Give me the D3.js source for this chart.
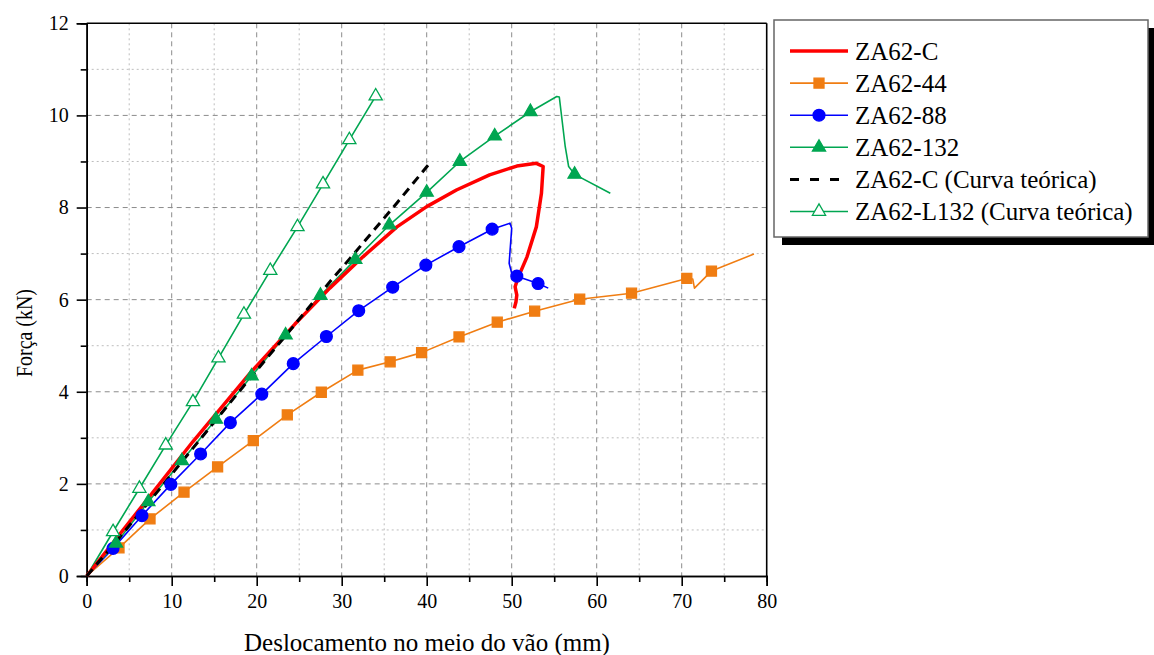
<!DOCTYPE html>
<html><head><meta charset="utf-8">
<script src="https://cdn.jsdelivr.net/npm/d3@7"></script>
<style>body{margin:0;background:#fff}svg{display:block}text{font-family:"Liberation Serif","Times New Roman",serif;fill:#000}</style>
</head><body><svg id="c" width="1154" height="655"></svg>
<script>
// ---- data ----
const xTicks = [0,10,20,30,40,50,60,70,80];
const yTicks = [0,2,4,6,8,10,12];
const seriesNames = ["ZA62-C","ZA62-44","ZA62-88","ZA62-132","ZA62-C (Curva teórica)","ZA62-L132 (Curva teórica)"];

const za62C = [[0,0],[6.3,1.47],[12.5,2.92],[19.2,4.4],[24.5,5.47],[28.6,6.25],[32.5,6.93],[36.5,7.58],[40,8.02],[43.5,8.38],[47.4,8.71],[50.6,8.9],[52.9,8.96],[53.7,8.89],[53.5,8.31],[52.9,7.58],[51.8,6.93],[50.8,6.5],[50.4,6.28],[50.6,6.1],[50.5,5.95],[50.3,5.81]];
const za62_44 = [[0,0],[3.8,0.61],[7.45,1.24],[11.45,1.82],[15.4,2.37],[19.6,2.94],[23.6,3.5],[27.6,3.99],[31.9,4.47],[35.7,4.65],[39.4,4.85],[43.8,5.19],[48.3,5.51],[52.7,5.75],[58.0,6.01],[64.1,6.14],[70.6,6.46],[71.3,6.45],[71.5,6.25],[73.5,6.62],[78.5,6.99]];
const za62_44_marks = [1,2,3,4,5,6,7,8,9,10,11,12,13,14,15,16,19];
const za62_88 = [[0,0],[3.1,0.6],[6.5,1.31],[9.9,1.99],[13.4,2.65],[16.9,3.33],[20.6,3.95],[24.3,4.61],[28.2,5.2],[32.0,5.76],[36.0,6.27],[39.9,6.75],[43.8,7.15],[47.7,7.53],[49.8,7.66],[50.0,7.55],[49.7,6.79],[50.0,6.57],[50.6,6.51],[53.1,6.35],[54.3,6.25]];
const za62_88_marks = [1,2,3,4,5,6,7,8,9,10,11,12,13,18,19];
const za62_132 = [[0,0],[3.45,0.71],[7.25,1.61],[11.2,2.5],[15.2,3.4],[19.4,4.34],[23.4,5.23],[27.5,6.09],[31.6,6.87],[35.6,7.62],[40.0,8.33],[43.9,9.0],[48.0,9.55],[52.2,10.08],[55.3,10.41],[55.6,10.4],[56.3,9.32],[56.7,8.89],[57.4,8.72],[61.6,8.31]];
const za62_132_marks = [1,2,3,4,5,6,7,8,9,10,11,12,13,18];
const za62C_teo = [[0,0],[3.7,0.8],[8.5,1.87],[18.4,4.11],[24,5.35],[28.8,6.43],[31,6.9],[36.5,8.1],[40.3,8.95]];
const za62L132_teo = [[0,0],[3.1,0.96],[6.2,1.9],[9.3,2.84],[12.5,3.78],[15.5,4.73],[18.5,5.68],[21.6,6.63],[24.8,7.58],[27.8,8.51],[30.9,9.47],[34.0,10.42]];
const za62L132_marks = [1,2,3,4,5,6,7,8,9,10,11];

// ---- layout ----
const svg = d3.select("#c");
const L=86.7, R=766.7, T=23.3, B=576;
const x = d3.scaleLinear().domain([0,80]).range([L,R]);
const y = d3.scaleLinear().domain([0,12]).range([B,T]);

const RED="#ff0000", ORANGE="#f07d12", BLUE="#0000ff", GREEN="#00a651";

// grid
const g = svg.append("g");
d3.range(5,80,10).forEach(v=>g.append("line").attr("x1",x(v)).attr("x2",x(v)).attr("y1",T).attr("y2",B).attr("stroke","#bdbdbd").attr("stroke-width",1).attr("stroke-dasharray","2,3"));
d3.range(1,12,2).forEach(v=>g.append("line").attr("y1",y(v)).attr("y2",y(v)).attr("x1",L).attr("x2",R).attr("stroke","#bdbdbd").attr("stroke-width",1).attr("stroke-dasharray","2,3"));
xTicks.slice(1,-1).forEach(v=>g.append("line").attr("x1",x(v)).attr("x2",x(v)).attr("y1",T).attr("y2",B).attr("stroke","#8c8c8c").attr("stroke-width",1).attr("stroke-dasharray","5,4"));
yTicks.slice(1,-1).forEach(v=>g.append("line").attr("y1",y(v)).attr("y2",y(v)).attr("x1",L).attr("x2",R).attr("stroke","#8c8c8c").attr("stroke-width",1).attr("stroke-dasharray","5,4"));

// axes
const xAxis = d3.axisBottom(x).tickValues(xTicks).tickSize(10).tickPadding(8).tickFormat(d3.format("d"));
const xMinor = d3.axisBottom(x).tickValues(d3.range(5,80,10)).tickSize(6).tickFormat("");
const yAxis = d3.axisLeft(y).tickValues(yTicks).tickSize(10).tickPadding(8).tickFormat(d3.format("d"));
const yMinor = d3.axisLeft(y).tickValues(d3.range(1,12,2)).tickSize(6).tickFormat("");
function styleAx(sel){sel.select(".domain").attr("stroke","#000").attr("stroke-width",1.6);sel.selectAll(".tick line").attr("stroke","#000").attr("stroke-width",1.6);sel.selectAll("text").attr("font-size",20).attr("font-family","Liberation Serif");}
svg.append("g").attr("transform",`translate(0,${B})`).call(xAxis).call(styleAx);
svg.append("g").attr("transform",`translate(0,${B})`).call(xMinor).call(styleAx);
svg.append("g").attr("transform",`translate(${L},0)`).call(yAxis).call(styleAx);
svg.append("g").attr("transform",`translate(${L},0)`).call(yMinor).call(styleAx);
svg.append("line").attr("x1",L).attr("x2",R).attr("y1",T).attr("y2",T).attr("stroke","#000").attr("stroke-width",1.6);
svg.append("line").attr("x1",R).attr("x2",R).attr("y1",T).attr("y2",B).attr("stroke","#000").attr("stroke-width",1.6);

// titles
svg.append("text").attr("x",427).attr("y",651).attr("text-anchor","middle").attr("font-size",25).text("Deslocamento no meio do vão (mm)");
svg.append("text").attr("transform","translate(32,333) rotate(-90)").attr("text-anchor","middle").attr("font-size",24).attr("textLength",88).attr("lengthAdjust","spacingAndGlyphs").text("Força (kN)");

// lines
const line = d3.line().x(d=>x(d[0])).y(d=>y(d[1]));
const plot = svg.append("g");
function drawLine(data,color,w,dash){plot.append("path").datum(data).attr("d",line).attr("fill","none").attr("stroke",color).attr("stroke-width",w).attr("stroke-linejoin","round").attr("stroke-dasharray",dash||null);}
drawLine(za62_44,ORANGE,1.6);
drawLine(za62_88,BLUE,1.6);
drawLine(za62_132,GREEN,1.6);
drawLine(za62L132_teo,GREEN,1.6);
drawLine(za62C,RED,3.5);
drawLine(za62C_teo,"#000",3,"9,6");

const sq = d3.symbol().type(d3.symbolSquare).size(100);
const ci = d3.symbol().type(d3.symbolCircle).size(110);
const tr = d3.symbol().type(d3.symbolTriangle).size(75);
function drawMarks(data,idx,sym,fill,stroke){
  plot.selectAll(null).data(idx.map(i=>data[i])).enter().append("path")
    .attr("d",sym).attr("transform",d=>`translate(${x(d[0])},${y(d[1])})`)
    .attr("fill",fill).attr("stroke",stroke).attr("stroke-width",1.3);
}
drawMarks(za62_44,za62_44_marks,sq,ORANGE,ORANGE);
drawMarks(za62_88,za62_88_marks,ci,BLUE,BLUE);
drawMarks(za62_132,za62_132_marks,tr,GREEN,GREEN);
drawMarks(za62L132_teo,za62L132_marks,tr,"#fff",GREEN);

// legend
const lg = svg.append("g");
lg.append("rect").attr("x",782).attr("y",28).attr("width",374).attr("height",217).attr("fill","#000");
lg.append("rect").attr("x",774).attr("y",20).attr("width",374).attr("height",217).attr("fill","#fff").attr("stroke","#666").attr("stroke-width",1.5);
const legItems = [
  {name:seriesNames[0],color:RED,w:3.5},
  {name:seriesNames[1],color:ORANGE,w:1.6,sym:sq,fill:ORANGE},
  {name:seriesNames[2],color:BLUE,w:1.6,sym:ci,fill:BLUE},
  {name:seriesNames[3],color:GREEN,w:1.6,sym:tr,fill:GREEN},
  {name:seriesNames[4],color:"#000",w:3,dash:"9,11"},
  {name:seriesNames[5],color:GREEN,w:1.6,sym:tr,fill:"#fff"}
];
legItems.forEach((it,i)=>{
  const cy = 51 + i*32.1;
  lg.append("line").attr("x1",790).attr("x2",848).attr("y1",cy).attr("y2",cy).attr("stroke",it.color).attr("stroke-width",it.w).attr("stroke-dasharray",it.dash||null);
  if(it.sym) lg.append("path").attr("d",it.sym).attr("transform",`translate(819,${cy})`).attr("fill",it.fill).attr("stroke",it.color).attr("stroke-width",1.3);
  lg.append("text").attr("x",855).attr("y",cy+8.5).attr("font-size",25).text(it.name);
});
</script></body></html>
